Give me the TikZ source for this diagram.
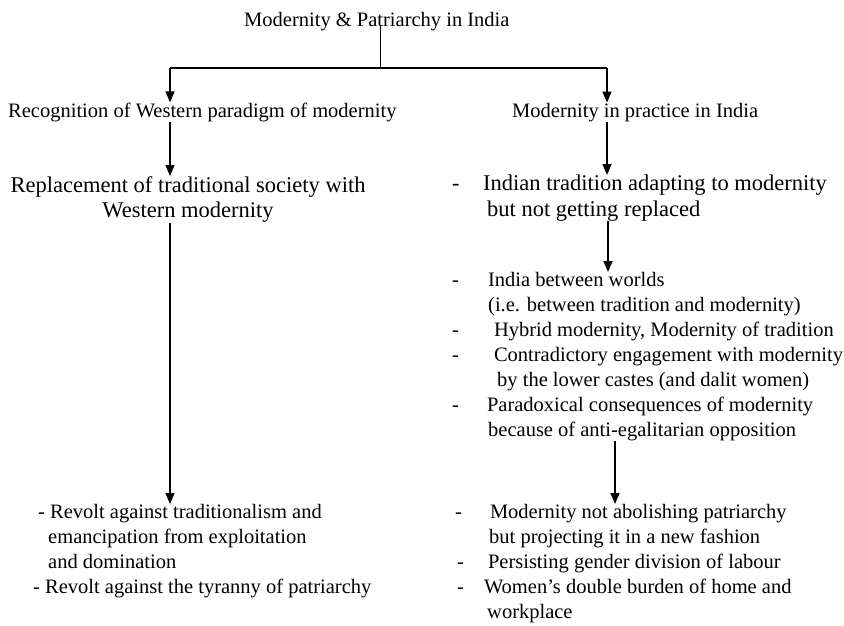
\documentclass[tikz,border=0pt]{standalone}
\usepackage{fontspec}
\setmainfont{Liberation Serif}
\usetikzlibrary{arrows.meta}

\begin{document}
\begin{tikzpicture}[
  x=1pt, y=-1pt,
  every node/.style={inner sep=0pt, font=\fontsize{20.5}{25}\selectfont},
  head/.style={anchor=base west},
  big/.style={font=\fontsize{22.5}{25.5}\selectfont},
  block/.style={anchor=north west, align=left},
  arrow/.style={-{Triangle[width=9pt,length=11pt]}, line width=1.5pt},
  stem/.style={line width=1pt}
]
  \useasboundingbox (0,0) rectangle (844,625);

  % Titel
  \node[head] (title) at (244,26) {Modernity \& Patriarchy in India};

  % Zwei Zweige
  \node[head] (western) at (8,117) {Recognition of Western paradigm of modernity};
  \node[head] (practice) at (512,117) {Modernity in practice in India};

  \coordinate (split) at (380,68);
  \coordinate (lsplit) at (170,68);
  \coordinate (rsplit) at (607,68);
  \coordinate (rmid) at (608,0);
  \coordinate (rlow) at (615,0);

  \draw[stem] (title.base -| split) -- (split);
  \draw[line width=1.5pt] (lsplit) -- (rsplit);
  \draw[arrow] (lsplit) -- (lsplit |- western.north);
  \draw[arrow] (rsplit) -- (rsplit |- practice.north);

  % Linke Seite
  \node[big, anchor=north, align=center] (replace) at (188,176)
    {Replacement of traditional society with\\Western modernity};
  \node[block] (revolt) at (33,504)
    {\hspace*{5pt}- Revolt against traditionalism and\\
     \hspace*{15pt}emancipation from exploitation\\
     \hspace*{15pt}and domination\\
     - Revolt against the tyranny of patriarchy};

  \draw[arrow] (western.south -| lsplit) -- (replace.north -| lsplit);
  \draw[arrow] (replace.south -| lsplit) -- (revolt.north -| lsplit);

  % Rechte Seite
  \node[big, block] (indian) at (452,175)
    {-\hspace{23.5pt}Indian tradition adapting to modernity\\
     \hspace*{35pt}but not getting replaced};
  \node[block] (worlds) at (452,272)
    {-\hspace{29pt}India between worlds\\
     \hspace*{36pt}(i.e. between tradition and modernity)\\
     -\hspace{35pt}Hybrid modernity, Modernity of tradition\\
     -\hspace{35pt}Contradictory engagement with modernity\\
     \hspace*{45pt}by the lower castes (and dalit women)\\
     -\hspace{28pt}Paradoxical consequences of modernity\\
     \hspace*{36pt}because of anti-egalitarian opposition};
  \node[block] (fashion) at (452,504)
    {\hspace*{3pt}-\hspace{28pt}Modernity not abolishing patriarchy\\
     \hspace*{37pt}but projecting it in a new fashion\\
     \hspace*{5pt}-\hspace{24pt}Persisting gender division of labour\\
     \hspace*{5pt}-\hspace{20pt}Women’s double burden of home and\\
     \hspace*{35pt}workplace};

  \draw[arrow] (practice.south -| rsplit) -- (indian.north -| rsplit);
  \draw[arrow] (indian.south -| rmid) -- (worlds.north -| rmid);
  \draw[arrow] (worlds.south -| rlow) -- (fashion.north -| rlow);

\end{tikzpicture}
\end{document}
